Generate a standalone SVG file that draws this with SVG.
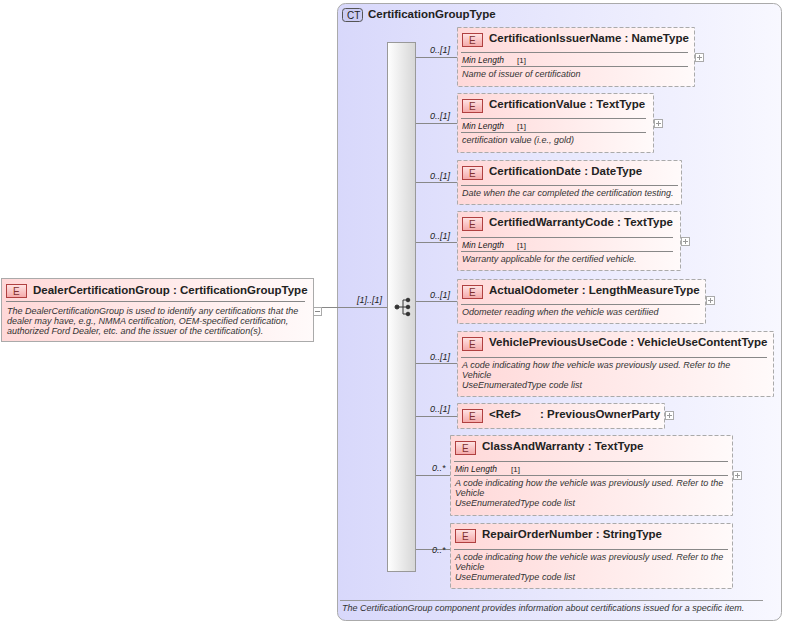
<svg xmlns="http://www.w3.org/2000/svg" width="786" height="623" viewBox="0 0 786 623">
<defs>
<linearGradient id="ct" x1="0" y1="0" x2="1" y2="0"><stop offset="0" stop-color="#d8d8fb"/><stop offset="1" stop-color="#f8f8ff"/></linearGradient>
<linearGradient id="el" x1="0" y1="0" x2="1" y2="0"><stop offset="0" stop-color="#ffd8d8"/><stop offset="1" stop-color="#fffafa"/></linearGradient>
<linearGradient id="seq" x1="0" y1="0" x2="1" y2="0"><stop offset="0" stop-color="#ffffff"/><stop offset="1" stop-color="#d6d6d6"/></linearGradient>
<linearGradient id="badge" x1="0" y1="0" x2="0" y2="1"><stop offset="0" stop-color="#ffe4e4"/><stop offset="1" stop-color="#f4a8a8"/></linearGradient>
</defs>
<style>
text{font-family:"Liberation Sans",Arial,sans-serif;fill:#222}
.t{font-size:11.5px;font-weight:bold}
.d{font-size:9px;font-style:italic;fill:#333}
.m{font-size:8.5px;font-style:italic;fill:#222}
.c{font-size:9px;font-style:italic}
.box{fill:url(#el);stroke:#aaa;stroke-dasharray:4,2}
.solid{fill:url(#el);stroke:#aaa}
.eb{fill:url(#badge);stroke:#b04040}
.bl{font-size:10px;fill:#803030}
.ln{stroke:#888;stroke-width:1}
.pl{fill:#fff;stroke:#aaa}
</style>
<g id="ct">
<rect x="337.5" y="3.5" width="444" height="617" rx="8" fill="url(#ct)" stroke="#aaa"/>
<rect x="342.5" y="8.5" width="20" height="13" rx="3" fill="#ccccf4" stroke="#555"/>
<text x="347" y="18.5" font-size="10" fill="#444">CT</text>
<text x="368" y="18" class="t">CertificationGroupType</text>
<line x1="340" y1="600.5" x2="763" y2="600.5" stroke="#999"/>
<text x="342" y="611" class="d">The CertificationGroup component provides information about certifications issued for a specific item.</text>
</g>
<g id="connectors">
<line class="ln" x1="321" y1="307.5" x2="387" y2="307.5"/>
<text x="357" y="303" class="c">[1]..[1]</text>
<line class="ln" x1="416" y1="57.5" x2="457" y2="57.5"/><text x="430" y="53" class="c">0..[1]</text>
<line class="ln" x1="416" y1="123.5" x2="457" y2="123.5"/><text x="430" y="119" class="c">0..[1]</text>
<line class="ln" x1="416" y1="182.5" x2="457" y2="182.5"/><text x="430" y="179" class="c">0..[1]</text>
<line class="ln" x1="416" y1="242.5" x2="457" y2="242.5"/><text x="430" y="239" class="c">0..[1]</text>
<line class="ln" x1="416" y1="301.5" x2="457" y2="301.5"/><text x="430" y="298" class="c">0..[1]</text>
<line class="ln" x1="416" y1="363.5" x2="457" y2="363.5"/><text x="430" y="360" class="c">0..[1]</text>
<line class="ln" x1="416" y1="416.5" x2="457" y2="416.5"/><text x="430" y="412" class="c">0..[1]</text>
<line class="ln" x1="416" y1="475.5" x2="450" y2="475.5"/><text x="432" y="471" class="c">0..*</text>
<line class="ln" x1="416" y1="549.5" x2="450" y2="549.5"/><text x="432" y="553" class="c">0..*</text>
</g>
<g id="seq">
<rect x="387.5" y="42.5" width="28" height="529" fill="url(#seq)" stroke="#999"/>
<g fill="#333" stroke="#333">
<circle cx="397" cy="307" r="2"/>
<line x1="397" y1="307" x2="403" y2="307"/>
<line x1="403" y1="300" x2="403" y2="314"/>
<line x1="403" y1="300" x2="408" y2="300"/><line x1="403" y1="307" x2="408" y2="307"/><line x1="403" y1="314" x2="408" y2="314"/>
<circle cx="408" cy="300" r="1.8"/><circle cx="408" cy="307" r="1.8"/><circle cx="408" cy="314" r="1.8"/>
</g>
</g>
<g id="dealer">
<rect x="1.5" y="278.5" width="312" height="63" class="solid"/>
<rect x="6.5" y="284.5" width="20" height="13" class="eb"/><text x="13" y="295" class="bl">E</text>
<text x="33" y="294" class="t">DealerCertificationGroup : CertificationGroupType</text>
<line x1="6" y1="301.5" x2="305" y2="301.5" stroke="#888"/>
<text class="d"><tspan x="7" y="314">The DealerCertificationGroup is used to identify any certifications that the</tspan><tspan x="7" y="324">dealer may have, e.g., NMMA certification, OEM-specified certification,</tspan><tspan x="7" y="334">authorized Ford Dealer, etc. and the issuer of the certification(s).</tspan></text>
<rect x="313.5" y="307.5" width="8" height="8" class="pl"/><line x1="315" y1="311.5" x2="320" y2="311.5" stroke="#888"/>
</g>
<g id="n1">
<rect x="457.5" y="27.5" width="237" height="59" class="box"/>
<rect x="462.5" y="33.5" width="20" height="13" class="eb"/><text x="469" y="44" class="bl">E</text>
<text x="489" y="42" class="t">CertificationIssuerName : NameType</text>
<line x1="461" y1="52.5" x2="688" y2="52.5" stroke="#888"/>
<text x="462" y="63" class="m">Min Length</text><text x="517" y="63" font-size="8" fill="#555">[1]</text>
<line x1="461" y1="66.5" x2="688" y2="66.5" stroke="#888"/>
<text x="462" y="77" class="d">Name of issuer of certification</text>
<rect x="695.5" y="53.5" width="8" height="8" class="pl"/><path d="M697 57.5h5M699.5 55v5" stroke="#999"/>
</g>
<g id="n2">
<rect x="457.5" y="93.5" width="196" height="59" class="box"/>
<rect x="462.5" y="99.5" width="20" height="13" class="eb"/><text x="469" y="110" class="bl">E</text>
<text x="489" y="108" class="t">CertificationValue : TextType</text>
<line x1="461" y1="118.5" x2="646" y2="118.5" stroke="#888"/>
<text x="462" y="129" class="m">Min Length</text><text x="517" y="129" font-size="8" fill="#555">[1]</text>
<line x1="461" y1="132.5" x2="646" y2="132.5" stroke="#888"/>
<text x="462" y="143" class="d">certification value (i.e., gold)</text>
<rect x="654.5" y="119.5" width="8" height="8" class="pl"/><path d="M656 123.5h5M658.5 121v5" stroke="#999"/>
</g>
<g id="n3">
<rect x="457.5" y="160.5" width="224" height="44" class="box"/>
<rect x="462.5" y="166.5" width="20" height="13" class="eb"/><text x="469" y="177" class="bl">E</text>
<text x="489" y="175" class="t">CertificationDate : DateType</text>
<line x1="461" y1="185.5" x2="678" y2="185.5" stroke="#888"/>
<text x="462" y="196" class="d">Date when the car completed the certification testing.</text>
</g>
<g id="n4">
<rect x="457.5" y="211.5" width="223" height="59" class="box"/>
<rect x="462.5" y="217.5" width="20" height="13" class="eb"/><text x="469" y="228" class="bl">E</text>
<text x="489" y="226" class="t">CertifiedWarrantyCode : TextType</text>
<line x1="461" y1="237.5" x2="673" y2="237.5" stroke="#888"/>
<text x="462" y="248" class="m">Min Length</text><text x="517" y="248" font-size="8" fill="#555">[1]</text>
<line x1="461" y1="251.5" x2="673" y2="251.5" stroke="#888"/>
<text x="462" y="262" class="d">Warranty applicable for the certified vehicle.</text>
<rect x="681.5" y="237.5" width="8" height="8" class="pl"/><path d="M683 241.5h5M685.5 239v5" stroke="#999"/>
</g>
<g id="n5">
<rect x="457.5" y="279.5" width="248" height="44" class="box"/>
<rect x="462.5" y="285.5" width="20" height="13" class="eb"/><text x="469" y="296" class="bl">E</text>
<text x="489" y="294" class="t">ActualOdometer : LengthMeasureType</text>
<line x1="461" y1="304.5" x2="700" y2="304.5" stroke="#888"/>
<text x="462" y="315" class="d">Odometer reading when the vehicle was certifiied</text>
<rect x="706.5" y="296.5" width="8" height="8" class="pl"/><path d="M708 300.5h5M710.5 298v5" stroke="#999"/>
</g>
<g id="n6">
<rect x="457.5" y="331.5" width="316" height="65" class="box"/>
<rect x="462.5" y="337.5" width="20" height="13" class="eb"/><text x="469" y="348" class="bl">E</text>
<text x="489" y="346" class="t">VehiclePreviousUseCode : VehicleUseContentType</text>
<line x1="461" y1="357.5" x2="767" y2="357.5" stroke="#888"/>
<text class="d"><tspan x="462" y="368">A code indicating how the vehicle was previously used. Refer to the</tspan><tspan x="462" y="378">Vehicle</tspan><tspan x="462" y="388">UseEnumeratedType code list</tspan></text>
</g>
<g id="n7">
<rect x="457.5" y="403.5" width="207" height="25" class="box"/>
<rect x="462.5" y="409.5" width="20" height="13" class="eb"/><text x="469" y="420" class="bl">E</text>
<text x="489" y="418" class="t">&lt;Ref&gt;</text><text x="540" y="418" class="t">: PreviousOwnerParty</text>
<rect x="665.5" y="411.5" width="8" height="8" class="pl"/><path d="M667 415.5h5M669.5 413v5" stroke="#999"/>
</g>
<g id="n8">
<rect x="450.5" y="435.5" width="282" height="80" class="box"/>
<rect x="455.5" y="441.5" width="20" height="13" class="eb"/><text x="462" y="452" class="bl">E</text>
<text x="482" y="450" class="t">ClassAndWarranty : TextType</text>
<line x1="454" y1="461.5" x2="728" y2="461.5" stroke="#888"/>
<text x="455" y="472" class="m">Min Length</text><text x="511" y="472" font-size="8" fill="#555">[1]</text>
<line x1="454" y1="475.5" x2="728" y2="475.5" stroke="#888"/>
<text class="d"><tspan x="455" y="486">A code indicating how the vehicle was previously used. Refer to the</tspan><tspan x="455" y="496">Vehicle</tspan><tspan x="455" y="506">UseEnumeratedType code list</tspan></text>
<rect x="733.5" y="471.5" width="8" height="8" class="pl"/><path d="M735 475.5h5M737.5 473v5" stroke="#999"/>
</g>
<g id="n9">
<rect x="450.5" y="523.5" width="282" height="65" class="box"/>
<rect x="455.5" y="529.5" width="20" height="13" class="eb"/><text x="462" y="540" class="bl">E</text>
<text x="482" y="538" class="t">RepairOrderNumber : StringType</text>
<line x1="454" y1="549.5" x2="728" y2="549.5" stroke="#888"/>
<text class="d"><tspan x="455" y="560">A code indicating how the vehicle was previously used. Refer to the</tspan><tspan x="455" y="570">Vehicle</tspan><tspan x="455" y="580">UseEnumeratedType code list</tspan></text>
</g>
</svg>
